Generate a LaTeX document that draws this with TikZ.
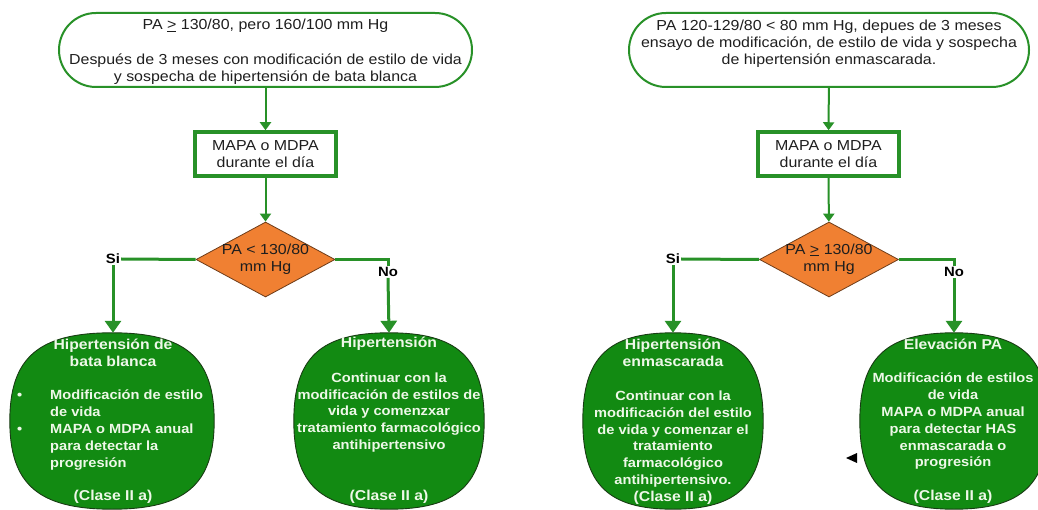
\documentclass[tikz,border=0pt]{standalone}
\usepackage{fontspec}
\setmainfont{Liberation Sans}[FakeStretch=1.1]
\usetikzlibrary{shapes.geometric,shapes.misc,arrows.meta}
\definecolor{lgreen}{RGB}{40,145,40}
\definecolor{ofill}{RGB}{18,138,18}
\definecolor{oline}{RGB}{25,60,20}
\definecolor{dorange}{RGB}{240,128,50}
\definecolor{dline}{RGB}{110,60,25}
\definecolor{otext}{RGB}{238,248,232}
\definecolor{ttext}{RGB}{30,30,30}
\tikzset{
  stadium/.style={rounded rectangle, draw=lgreen, line width=2pt, minimum height=74pt, inner sep=0pt},
  mapabox/.style={rectangle, draw=lgreen, line width=3.5pt, minimum width=141pt, minimum height=44pt, inner sep=0pt},
  decision/.style={diamond, fill=dorange, draw=dline, line width=0.8pt, minimum width=139pt, minimum height=75pt, inner sep=0pt},
  ovalbase/.style={ellipse, minimum height=176pt, inner sep=0pt},
  ovalpath/.style={fill=ofill, draw=oline, line width=0.9pt},
  txt/.style={text=ttext, font=\fontsize{14.5}{17.2}\selectfont, align=center, inner sep=0pt},
  otxt/.style={text=otext, font=\fontsize{13.3}{16.8}\selectfont\bfseries, align=center, inner sep=0pt},
  ottl/.style={text=otext, font=\fontsize{14.3}{16.8}\selectfont\bfseries, align=center, inner sep=0pt},
  lbl/.style={font=\fontsize{13.5}{16}\selectfont\bfseries, inner sep=1pt},
  thinarrow/.style={draw=lgreen, line width=2pt, -{Triangle[width=11pt,length=8pt]}},
  thickline/.style={draw=lgreen, line width=3pt},
  thickarrow/.style={draw=lgreen, line width=3pt, -{Triangle[width=16pt,length=12pt]}},
}
\newcommand{\ovalfor}[3]{\path[ovalpath] (#1.north) .. controls +(#2,0) and +(0,-#3) .. (#1.east) .. controls +(0,#3) and +(#2,0) .. (#1.south) .. controls +(-#2,0) and +(0,#3) .. (#1.west) .. controls +(0,-#3) and +(-#2,0) .. (#1.north) -- cycle;}
\begin{document}
\begin{tikzpicture}[x=1pt,y=-1pt]
\useasboundingbox (0,0) rectangle (1038,510);
% ---------- left flow ----------
\node[stadium, minimum width=413pt] (s1) at (265.5,50) {};
\node[txt] (s1t) at (265.5,52) {PA \underline{>} 130/80, pero 160/100 mm Hg\\[17.2pt]Después de 3 meses con modificación de estilo de vida\\y sospecha de hipertensión de bata blanca};
\node[mapabox, txt] (m1) at (265.5,154) {MAPA o MDPA\\durante el día};
\node[decision] (d1) at (265.5,259.5) {};
\node[txt] (d1t) at (265.5,259) {PA < 130/80\\mm Hg};
\node[lbl] (si1) at (113,259) {Si};
\node[lbl] (no1) at (388,272) {No};
\node[ovalbase, minimum width=204pt] (e1) at (112,421) {};
\ovalfor{e1}{73.4}{63.4}
\node[ovalbase, minimum width=190pt] (e2) at (389,421) {};
\ovalfor{e2}{68.4}{63.4}
\node[ottl] (e1h) at (113,352.5) {Hipertensión de\\bata blanca};
\node[otxt, align=left, anchor=west] (e1b) at (17,430) {\makebox[33pt][l]{•}Modificación de estilo\\\hspace*{33pt}de vida\\\makebox[33pt][l]{•}MAPA o MDPA anual\\\hspace*{33pt}para detectar la\\\hspace*{33pt}progresión};
\node[ottl] (e1c) at (113,497) {(Clase II a)};
\node[ottl] (e2h) at (389,344) {Hipertensión};
\node[otxt] (e2b) at (389,412.5) {Continuar con la\\modificación de estilos de\\vida y comenzxar\\tratamiento farmacológico\\antihipertensivo};
\node[ottl] (e2c) at (389,497) {(Clase II a)};
\draw[thinarrow] (s1) -- (m1);
\draw[thinarrow] (m1) -- (d1);
\draw[thickline] (d1.west) -- (si1.east);
\draw[thickarrow] (si1.south) -- (si1.south |- e1.north);
\draw[thickline] (d1.east) -| (no1.north);
\draw[thickarrow] (no1.south) -- (e2.north);
% ---------- right flow ----------
\node[stadium, minimum width=400pt] (s2) at (829,50) {};
\node[txt] (s2t) at (829,44) {PA 120-129/80 < 80 mm Hg, depues de 3 meses\\ensayo de modificación, de estilo de vida y sospecha\\de hipertensión enmascarada.};
\node[mapabox, txt] (m2) at (828.5,154) {MAPA o MDPA\\durante el día};
\node[decision] (d2) at (829,259.5) {};
\node[txt] (d2t) at (829,259) {PA \underline{>} 130/80\\mm Hg};
\node[lbl] (si2) at (673,259) {Si};
\node[lbl] (no2) at (954,272) {No};
\node[ovalbase, minimum width=180pt] (e3) at (673,421) {};
\ovalfor{e3}{64.8}{63.4}
\node[ovalbase, minimum width=188pt] (e4) at (954,421) {};
\ovalfor{e4}{67.7}{63.4}
\node[ottl] (e3h) at (673,352.5) {Hipertensión\\enmascarada};
\node[otxt] (e3b) at (673,439) {Continuar con la\\modificación del estilo\\de vida y comenzar el\\tratamiento\\farmacológico\\antihipertensivo.};
\node[ottl] (e3c) at (673,498) {(Clase II a)};
\node[ottl] (e4h) at (953,344) {Elevación PA};
\node[otxt] (e4b) at (953,421.5) {Modificación de estilos\\de vida\\MAPA o MDPA anual\\para detectar HAS\\enmascarada o\\progresión};
\node[ottl] (e4c) at (953,497) {(Clase II a)};
\draw[thinarrow] (s2) -- (m2);
\draw[thinarrow] (m2) -- (d2);
\draw[thickline] (d2.west) -- (si2.east);
\draw[thickarrow] (si2.south) -- (e3.north);
\draw[thickline] (d2.east) -| (no2.north);
\draw[thickarrow] (no2.south) -- (e4.north);
% stray arrowhead
\fill[black] (846,458) -- (857,453) -- (857,463) -- cycle;
\end{tikzpicture}
\end{document}
